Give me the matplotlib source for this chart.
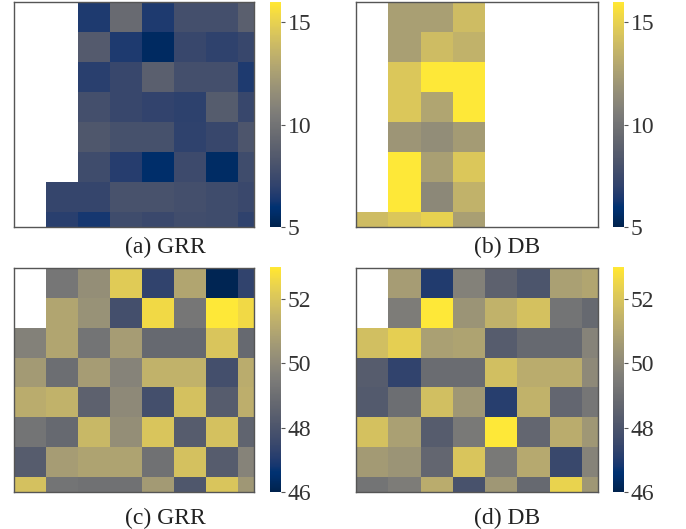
import numpy as np
import matplotlib
matplotlib.use('Agg')
import matplotlib.pyplot as plt

plt.rcParams['font.family'] = ['Liberation Serif', 'DejaVu Serif']

nan = np.nan

# (a) GRR, top row first
grr_top = [
    [nan, nan, 6.5, 9.5, 6.5, 7.8, 7.8, 8.8],
    [nan, nan, 8.5, 6.5, 5.5, 7.3, 7.0, 7.3],
    [nan, nan, 6.8, 7.3, 8.8, 7.8, 7.8, 6.5],
    [nan, nan, 7.8, 7.3, 7.1, 6.9, 8.6, 7.3],
    [nan, nan, 8.3, 7.9, 7.9, 7.0, 7.3, 8.2],
    [nan, nan, 7.6, 6.7, 5.7, 7.5, 5.6, 7.6],
    [nan, 7.2, 7.2, 8.0, 8.0, 7.8, 7.6, 7.4],
    [nan, 6.8, 6.3, 7.6, 7.4, 7.7, 7.6, 7.0],
]

# (b) DB, top row first
db_top = [
    [nan, 12.5, 12.5, 14.0, nan, nan, nan, nan],
    [nan, 12.5, 14.0, 13.5, nan, nan, nan, nan],
    [nan, 14.5, 16.0, 16.0, nan, nan, nan, nan],
    [nan, 14.5, 12.8, 16.0, nan, nan, nan, nan],
    [nan, 12.0, 11.5, 12.3, nan, nan, nan, nan],
    [nan, 16.0, 12.5, 14.5, nan, nan, nan, nan],
    [nan, 16.0, 11.2, 13.5, nan, nan, nan, nan],
    [14.0, 14.5, 15.0, 12.5, nan, nan, nan, nan],
]

# (c) GRR, bottom row
grr_bottom = [
    [nan, 49.3, 50.2, 52.2, 47.3, 51.0, 46.1, 47.3],
    [nan, 51.0, 50.3, 47.8, 52.6, 49.3, 53.0, 52.6],
    [49.7, 51.0, 49.2, 50.7, 48.8, 48.8, 52.0, 48.8],
    [50.6, 49.0, 50.7, 49.8, 51.4, 51.4, 47.8, 51.2],
    [51.2, 51.4, 48.5, 50.0, 47.8, 51.9, 48.3, 51.3],
    [49.2, 48.8, 51.6, 50.2, 52.0, 48.3, 51.9, 48.6],
    [48.3, 50.7, 50.9, 50.9, 49.1, 51.9, 48.3, 49.8],
    [51.9, 49.2, 49.1, 49.1, 50.6, 48.1, 52.0, 50.5],
]

# (d) DB, bottom row
db_bottom = [
    [nan, 50.7, 47.0, 49.7, 48.5, 48.0, 50.8, 51.0],
    [nan, 49.5, 53.0, 50.4, 51.4, 51.9, 49.2, 48.8],
    [51.8, 52.3, 50.8, 50.9, 48.3, 48.8, 48.8, 49.8],
    [48.3, 47.3, 48.9, 48.9, 51.8, 51.2, 51.2, 50.0],
    [48.2, 49.0, 51.8, 50.5, 47.1, 51.4, 48.7, 49.3],
    [51.9, 50.8, 48.3, 49.4, 53.0, 48.7, 51.2, 50.5],
    [50.6, 50.4, 48.7, 52.0, 49.4, 51.1, 47.5, 49.8],
    [49.2, 49.5, 51.2, 47.9, 50.5, 48.8, 52.4, 50.5],
]

# last bin is half width
edges = [0, 1, 2, 3, 4, 5, 6, 7, 7.5]

W, H = 686, 529
fig = plt.figure(figsize=(W / 100, H / 100), dpi=100)


def px(x0, y0, x1, y1):
    return [x0 / W, 1 - y1 / H, (x1 - x0) / W, (y1 - y0) / H]


panels = [
    (grr_top, 5, 16, [5, 10, 15], px(14, 2, 254, 227), px(270, 2, 281, 227), '(a) GRR', 165, 247),
    (db_top, 5, 16, [5, 10, 15], px(356, 2, 598, 227), px(613, 2, 624, 227), '(b) DB', 507, 247),
    (grr_bottom, 46, 53, [46, 48, 50, 52], px(14, 268, 254, 492), px(270, 267, 281, 492), '(c) GRR', 165, 518),
    (db_bottom, 46, 53, [46, 48, 50, 52], px(356, 268, 598, 492), px(613, 267, 624, 492), '(d) DB', 507, 518),
]

for data, vmin, vmax, ticks, rect, crect, label, lx, ly in panels:
    ax = fig.add_axes(rect)
    vals = np.ma.masked_invalid(np.array(data))
    mesh = ax.pcolormesh(edges, edges, vals, cmap='cividis', vmin=vmin, vmax=vmax)
    ax.set_xlim(0, 7.5)
    ax.set_ylim(7.5, 0)
    ax.set_xticks([])
    ax.set_yticks([])
    for s in ax.spines.values():
        s.set_color('#555555')
        s.set_linewidth(1.0)

    cax = fig.add_axes(crect)
    cb = fig.colorbar(mesh, cax=cax, ticks=ticks)
    cb.outline.set_visible(False)
    cax.tick_params(labelsize=17, length=3, width=0.8, color='#555555', labelcolor='#333333', pad=2)

    fig.text(lx / W, 1 - ly / H, label, ha='center', va='center', fontsize=17, color='#222222')

plt.savefig('out.png', dpi=100)
